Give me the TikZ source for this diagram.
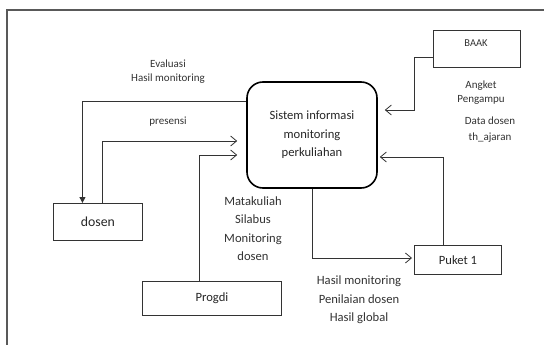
\documentclass[tikz,border=0pt]{standalone}
\usepackage{fontspec}
\setmainfont{Carlito}
\usetikzlibrary{arrows.meta}
\begin{document}
\begin{tikzpicture}[x=1pt,y=-1pt,
  line/.style={draw=black!80,line width=0.9pt},
  openarr/.style={line,-{Straight Barb[length=6pt,width=10pt,line width=0.8pt]}},
  filledarr/.style={line,-{Triangle[length=6pt,width=6pt]}},
  entity/.style={draw=black!80,line width=0.9pt,rectangle,inner sep=0pt,anchor=north west},
  lbl/.style={align=center,text=black!80,inner sep=0pt},
  small/.style={lbl,font=\fontsize{11}{14}\selectfont},
  big/.style={lbl,font=\fontsize{12.6}{18.5}\selectfont}]
\useasboundingbox (0,0) rectangle (544,345);
\fill[white] (0,0) rectangle (544,345);
% frame
\draw[draw=black!65,line width=1.2pt] (7,345) -- (7,10) -- (544,10);
% central process
\node[draw=black,line width=1.6pt,rounded corners=16pt,minimum width=130pt,minimum height=106pt,
  align=center,text=black!85,font=\fontsize{12.6}{18.5}\selectfont] (sys) at (312,135)
  {Sistem informasi\\monitoring\\perkuliahan};
% entities
\node[entity,minimum width=87pt,minimum height=37pt] (baak) at (433,30) {};
\node[lbl,font=\fontsize{10.5}{13}\selectfont] (baaktxt) at (476,43) {BAAK};
\node[entity,minimum width=89pt,minimum height=37pt,font=\fontsize{13.8}{16}\selectfont,text=black!85] (dosen) at (53,203) {dosen};
\node[entity,minimum width=139pt,minimum height=34pt,font=\fontsize{12.6}{15}\selectfont,text=black!85] (progdi) at (142,281) {Progdi};
\node[entity,minimum width=87pt,minimum height=29pt,font=\fontsize{12.6}{15}\selectfont,text=black!85] (puket) at (414,245) {Puket 1};
% connectors
\draw[filledarr] (sys.west |- 0,101) -| ([xshift=-15.5pt]dosen.north);
\draw[openarr,shorten >=9pt] ([xshift=4.5pt]dosen.north) |- (sys.west |- 0,141);
\draw[openarr,shorten >=9pt] ([xshift=-12.5pt]progdi.north) |- (sys.west |- 0,155);
\draw[openarr,shorten >=7pt] (baak.west |- 0,57) -- ([xshift=-19pt]baak.west |- 0,57) |- (sys.east |- 0,110);
\draw[openarr,shorten >=2pt] ([xshift=-14.5pt]puket.north) |- (sys.east |- 0,157);
\draw[openarr,shorten >=2pt] (sys.south) |- (puket.west |- 0,258);
% labels
\node[small] (l1) at (168,72) {Evaluasi\\Hasil monitoring};
\node[small] (l2) at (168,122) {presensi};
\node[small] (l3) at (481,93) {Angket\\Pengampu};
\node[small,font=\fontsize{11}{16}\selectfont] (l4) at (490,130) {Data dosen\\th\_ajaran};
\node[big] (l5) at (253,228.5) {Matakuliah\\Silabus\\Monitoring\\dosen};
\node[big] (l6) at (359,300) {Hasil monitoring\\Penilaian dosen\\Hasil global};
\end{tikzpicture}
\end{document}
